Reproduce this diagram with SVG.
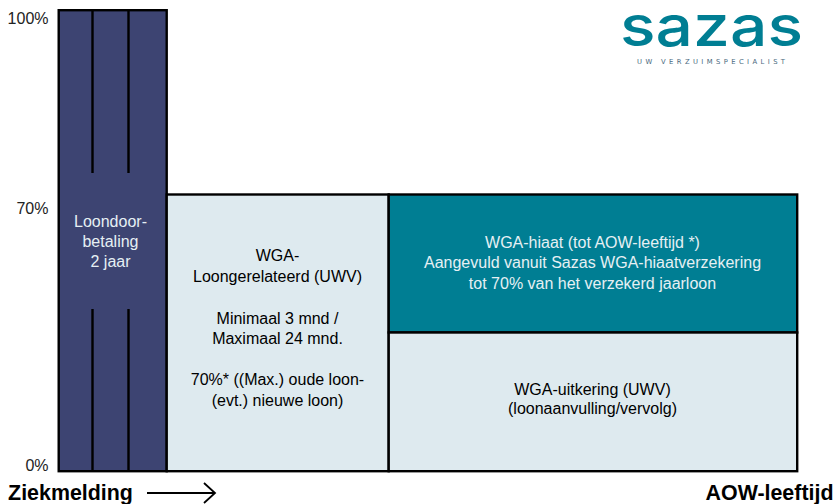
<svg xmlns="http://www.w3.org/2000/svg" width="835" height="504" viewBox="0 0 835 504">
<style>
text{font-family:"Liberation Sans",Arial,sans-serif;font-size:16px;fill:#000;text-anchor:middle}
.w{fill:#e6f0f4}
.box{stroke:#000;stroke-width:2.4}
.b{font-weight:bold;font-size:21.4px}
.ax{text-anchor:end;fill:#222}
.v{stroke:#000;stroke-width:2.4;fill:none}
</style>
<defs><marker id="arr" markerUnits="userSpaceOnUse" markerWidth="16" markerHeight="24" refX="13" refY="11" orient="auto" viewBox="0 0 16 22"><path d="M2 1L13 11L2 21" fill="none" stroke="#000" stroke-width="1.8"/></marker></defs>
<rect width="835" height="504" fill="#fff"/>
<g id="axis-labels">
<text class="ax" x="48.500" y="24">100%</text>
<text class="ax" x="48.500" y="214">70%</text>
<text class="ax" x="48.500" y="471">0%</text>
</g>
<g id="loondoorbetaling">
<rect class="box" x="58.700" y="10.200" width="108" height="461" fill="#3d4472"/>
<text class="w" x="110.500" y="227">Loondoor-</text>
<text class="w" x="110.500" y="246.500">betaling</text>
<text class="w" x="110.500" y="267">2 jaar</text>
</g>
<g id="wga-loongerelateerd">
<rect class="box" x="166.700" y="194.500" width="222" height="276.700" fill="#deeaef"/>
<text x="277.500" y="261">WGA-</text>
<text x="277.500" y="282">Loongerelateerd (UWV)</text>
<text x="277.500" y="323.500">Minimaal 3 mnd /</text>
<text x="277.500" y="344">Maximaal 24 mnd.</text>
<text x="277.500" y="384.500">70%* ((Max.) oude loon-</text>
<text x="277.500" y="405.500">(evt.) nieuwe loon)</text>
</g>
<g id="wga-hiaat">
<rect class="box" x="388.700" y="194.500" width="408.500" height="138" fill="#007e93"/>
<text class="w" x="592.500" y="248">WGA-hiaat (tot AOW-leeftijd *)</text>
<text class="w" x="592.500" y="268">Aangevuld vanuit Sazas WGA-hiaatverzekering</text>
<text class="w" x="592.500" y="289">tot 70% van het verzekerd jaarloon</text>
</g>
<g id="wga-uitkering">
<rect class="box" x="388.700" y="332.500" width="408.500" height="138.700" fill="#deeaef"/>
<text x="592.500" y="394.500">WGA-uitkering (UWV)</text>
<text x="592.500" y="413.500">(loonaanvulling/vervolg)</text>
</g>
<g id="logo">
<text x="711.500" y="46" style="font-family:Inter,sans-serif;font-weight:500;font-size:57px;fill:#007e93" textLength="183" lengthAdjust="spacingAndGlyphs">sazas</text>
<text x="711" y="64" style="font-family:'DejaVu Sans',sans-serif;font-size:6.800px;fill:#4a6a80" textLength="148">UW VERZUIMSPECIALIST</text>
</g>
<g id="connectors">
<path class="v" d="M92.500 10V173M128.500 10V173M92.500 309V471M128.500 309V471"/>
<path d="M147 493H215" stroke="#000" stroke-width="1.800" fill="none" marker-end="url(#arr)"/>
</g>
<g id="bottom-labels">
<text class="b" x="70.500" y="500">Ziekmelding</text>
<text class="b" x="769.500" y="500">AOW-leeftijd</text>
</g>
</svg>
